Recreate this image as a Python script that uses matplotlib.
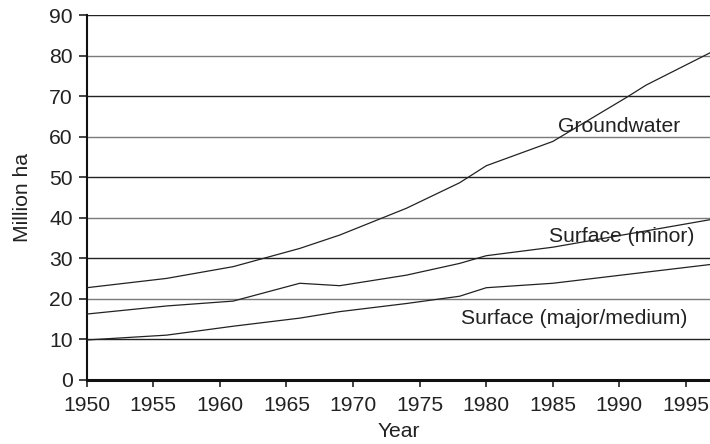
import matplotlib
matplotlib.use("Agg")
import matplotlib.pyplot as plt

plt.rcParams['font.family'] = ['Liberation Sans', 'DejaVu Sans']

years_gw = [1950, 1956, 1961, 1966, 1969, 1974, 1978, 1980, 1985, 1990.5, 1992, 1997]
groundwater = [22.7, 25.0, 27.9, 32.4, 35.7, 42.3, 48.6, 52.8, 58.8, 69.6, 72.7, 81.0]

years_s = [1950, 1956, 1961, 1966, 1969, 1974, 1978, 1980, 1985, 1997]
surface_minor = [16.2, 18.2, 19.4, 23.8, 23.2, 25.8, 28.7, 30.6, 32.7, 39.6]
surface_major = [9.8, 11.0, 13.2, 15.2, 16.8, 18.8, 20.6, 22.7, 23.8, 28.5]

xticks = [1950, 1955, 1960, 1965, 1970, 1975, 1980, 1985, 1990, 1995]
yticks = [0, 10, 20, 30, 40, 50, 60, 70, 80, 90]

fig = plt.figure(figsize=(7.1, 4.44), dpi=100)
ax = fig.add_axes([0.1221, 0.1448, 0.8779, 0.8214])

for i, yv in enumerate(yticks[1:]):
    col = '#222222' if i % 2 == 0 else '#7a7a7a'
    ax.axhline(yv, color=col, lw=1.0, zorder=1)

lc = '#222222'
ax.plot(years_gw, groundwater, color=lc, lw=0.9, zorder=3)
ax.plot(years_s, surface_minor, color=lc, lw=0.9, zorder=3)
ax.plot(years_s, surface_major, color=lc, lw=0.9, zorder=3)

fs = 15.2
ax.text(1990.0, 62.5, 'Groundwater', fontsize=fs, ha='center', va='center', color='#222222', zorder=4)
ax.text(1990.15, 35.3, 'Surface (minor)', fontsize=fs, ha='center', va='center', color='#222222', zorder=4)
ax.text(1986.6, 15.2, 'Surface (major/medium)', fontsize=fs, ha='center', va='center', color='#222222', zorder=4)

ax.set_xlim(1950, 1996.8)
ax.set_ylim(0, 90)
ax.set_xticks(xticks)
ax.set_yticks(yticks)
ax.tick_params(axis='both', labelsize=fs, colors='#222222', width=1.2, direction='out')
ax.tick_params(axis='x', pad=7, length=5)
ax.tick_params(axis='y', pad=4, length=6)

for s in ['top', 'right']:
    ax.spines[s].set_visible(False)
ax.spines['left'].set_linewidth(1.5)
ax.spines['bottom'].set_linewidth(2.2)
ax.spines['left'].set_color('#111111')
ax.spines['bottom'].set_color('#111111')

ax.set_xlabel('Year', fontsize=fs, color='#222222', labelpad=5)
ax.set_ylabel('Million ha', fontsize=fs, color='#222222', labelpad=12)

fig.savefig('out.png', dpi=100)
